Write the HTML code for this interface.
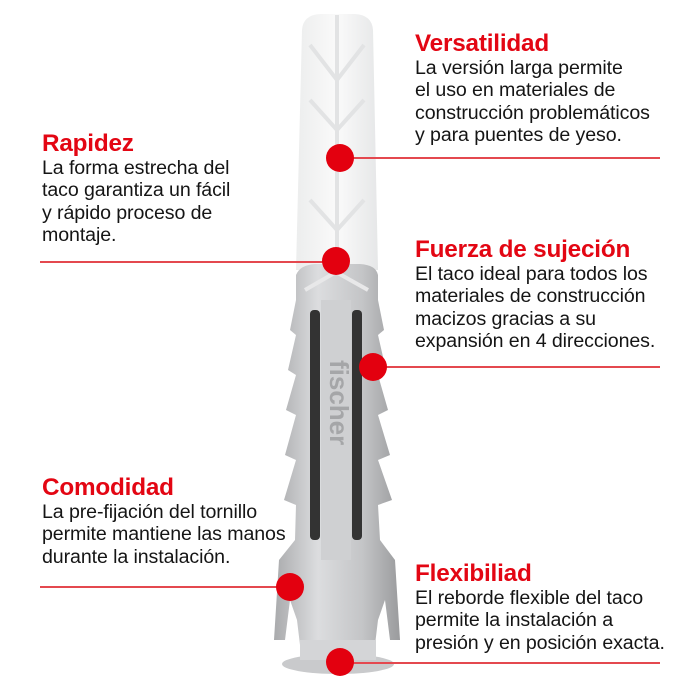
<!DOCTYPE html>
<html><head><meta charset="utf-8"><style>
body{margin:0;width:700px;height:700px;background:#fff;position:relative;overflow:hidden;font-family:"Liberation Sans",sans-serif}
.b{position:absolute;font-size:19.6px;line-height:22.4px;color:#151515;white-space:nowrap;letter-spacing:-0.1px}
.b h{display:block;color:#e30613;font-weight:bold;font-size:24.3px;line-height:26px;margin-bottom:0px;letter-spacing:-0.2px}
.l{position:absolute;height:1.5px;background:#e4484f}
.d{position:absolute;width:28px;height:28px;border-radius:50%;background:#e3000f}
</style></head><body>
<svg width="700" height="700" style="position:absolute;left:0;top:0">
<defs>
<linearGradient id="g" x1="0" x2="1"><stop offset="0" stop-color="#a9aaac"/><stop offset=".35" stop-color="#dcdddf"/><stop offset=".7" stop-color="#c4c5c7"/><stop offset="1" stop-color="#9a9b9d"/></linearGradient>
<linearGradient id="f" x1="0" x2="1"><stop offset="0" stop-color="#eceded"/><stop offset=".5" stop-color="#fafafa"/><stop offset="1" stop-color="#e6e7e8"/></linearGradient>
</defs>
<path d="M302 30 Q303 15 320 14 L355 14 Q372 15 373 30 L378 270 L296 270 Z" fill="url(#f)"/>
<path d="M337 15 V265 M310 45 L337 80 L364 45 M310 100 L337 130 L364 100 M310 200 L337 230 L364 200" stroke="#e2e3e4" stroke-width="4" fill="none"/>
<path d="M296 275 Q300 265 315 264 L360 264 Q376 265 378 275 L378 300 L384 330 L378 335 L386 370 L378 375 L388 410 L378 415 L390 455 L378 460 L392 500 L378 505 L380 540 L395 560 L400 640 L390 640 L385 600 L378 620 L375 645 L300 645 L297 620 L290 600 L285 640 L274 640 L279 560 L295 540 L296 505 L284 500 L296 460 L285 455 L296 415 L286 410 L296 375 L288 370 L296 335 L290 330 L296 300 Z" fill="url(#g)"/>
<rect x="310" y="310" width="10" height="230" rx="4" fill="#333"/>
<rect x="352" y="310" width="10" height="230" rx="4" fill="#333"/>
<rect x="321" y="300" width="30" height="260" fill="#cfd0d2"/>
<path d="M305 290 L336 272 L368 290" stroke="#e8e8e9" stroke-width="4" fill="none"/>
<text x="0" y="0" transform="translate(330,360) rotate(90)" font-family="Liberation Sans" font-weight="bold" font-size="26" fill="#a5a6a8">fischer</text>
<ellipse cx="338" cy="664" rx="56" ry="10" fill="#c9cacc"/>
<rect x="300" y="640" width="76" height="20" fill="#d4d5d7"/>
</svg>
<div class="l" style="left:340px;top:157px;width:320px"></div>
<div class="l" style="left:40px;top:261px;width:296px"></div>
<div class="l" style="left:373px;top:366px;width:287px"></div>
<div class="l" style="left:40px;top:586px;width:250px"></div>
<div class="l" style="left:340px;top:662px;width:320px"></div>
<div class="d" style="left:326px;top:144px"></div>
<div class="d" style="left:322px;top:247px"></div>
<div class="d" style="left:359px;top:353px"></div>
<div class="d" style="left:276px;top:573px"></div>
<div class="d" style="left:326px;top:648px"></div>
<div class="b" style="left:415px;top:31px"><h>Versatilidad</h>La versión larga permite<br>el uso en materiales de<br>construcción problemáticos<br>y para puentes de yeso.</div>
<div class="b" style="left:42px;top:131px"><h>Rapidez</h>La forma estrecha del<br>taco garantiza un fácil<br>y rápido proceso de<br>montaje.</div>
<div class="b" style="left:415px;top:237px"><h>Fuerza de sujeción</h>El taco ideal para todos los<br>materiales de construcción<br>macizos gracias a su<br>expansión en 4 direcciones.</div>
<div class="b" style="left:42px;top:475px"><h>Comodidad</h>La pre-fijación del tornillo<br>permite mantiene las manos<br>durante la instalación.</div>
<div class="b" style="left:415px;top:561px"><h>Flexibiliad</h>El reborde flexible del taco<br>permite la instalación a<br>presión y en posición exacta.</div>
</body></html>
